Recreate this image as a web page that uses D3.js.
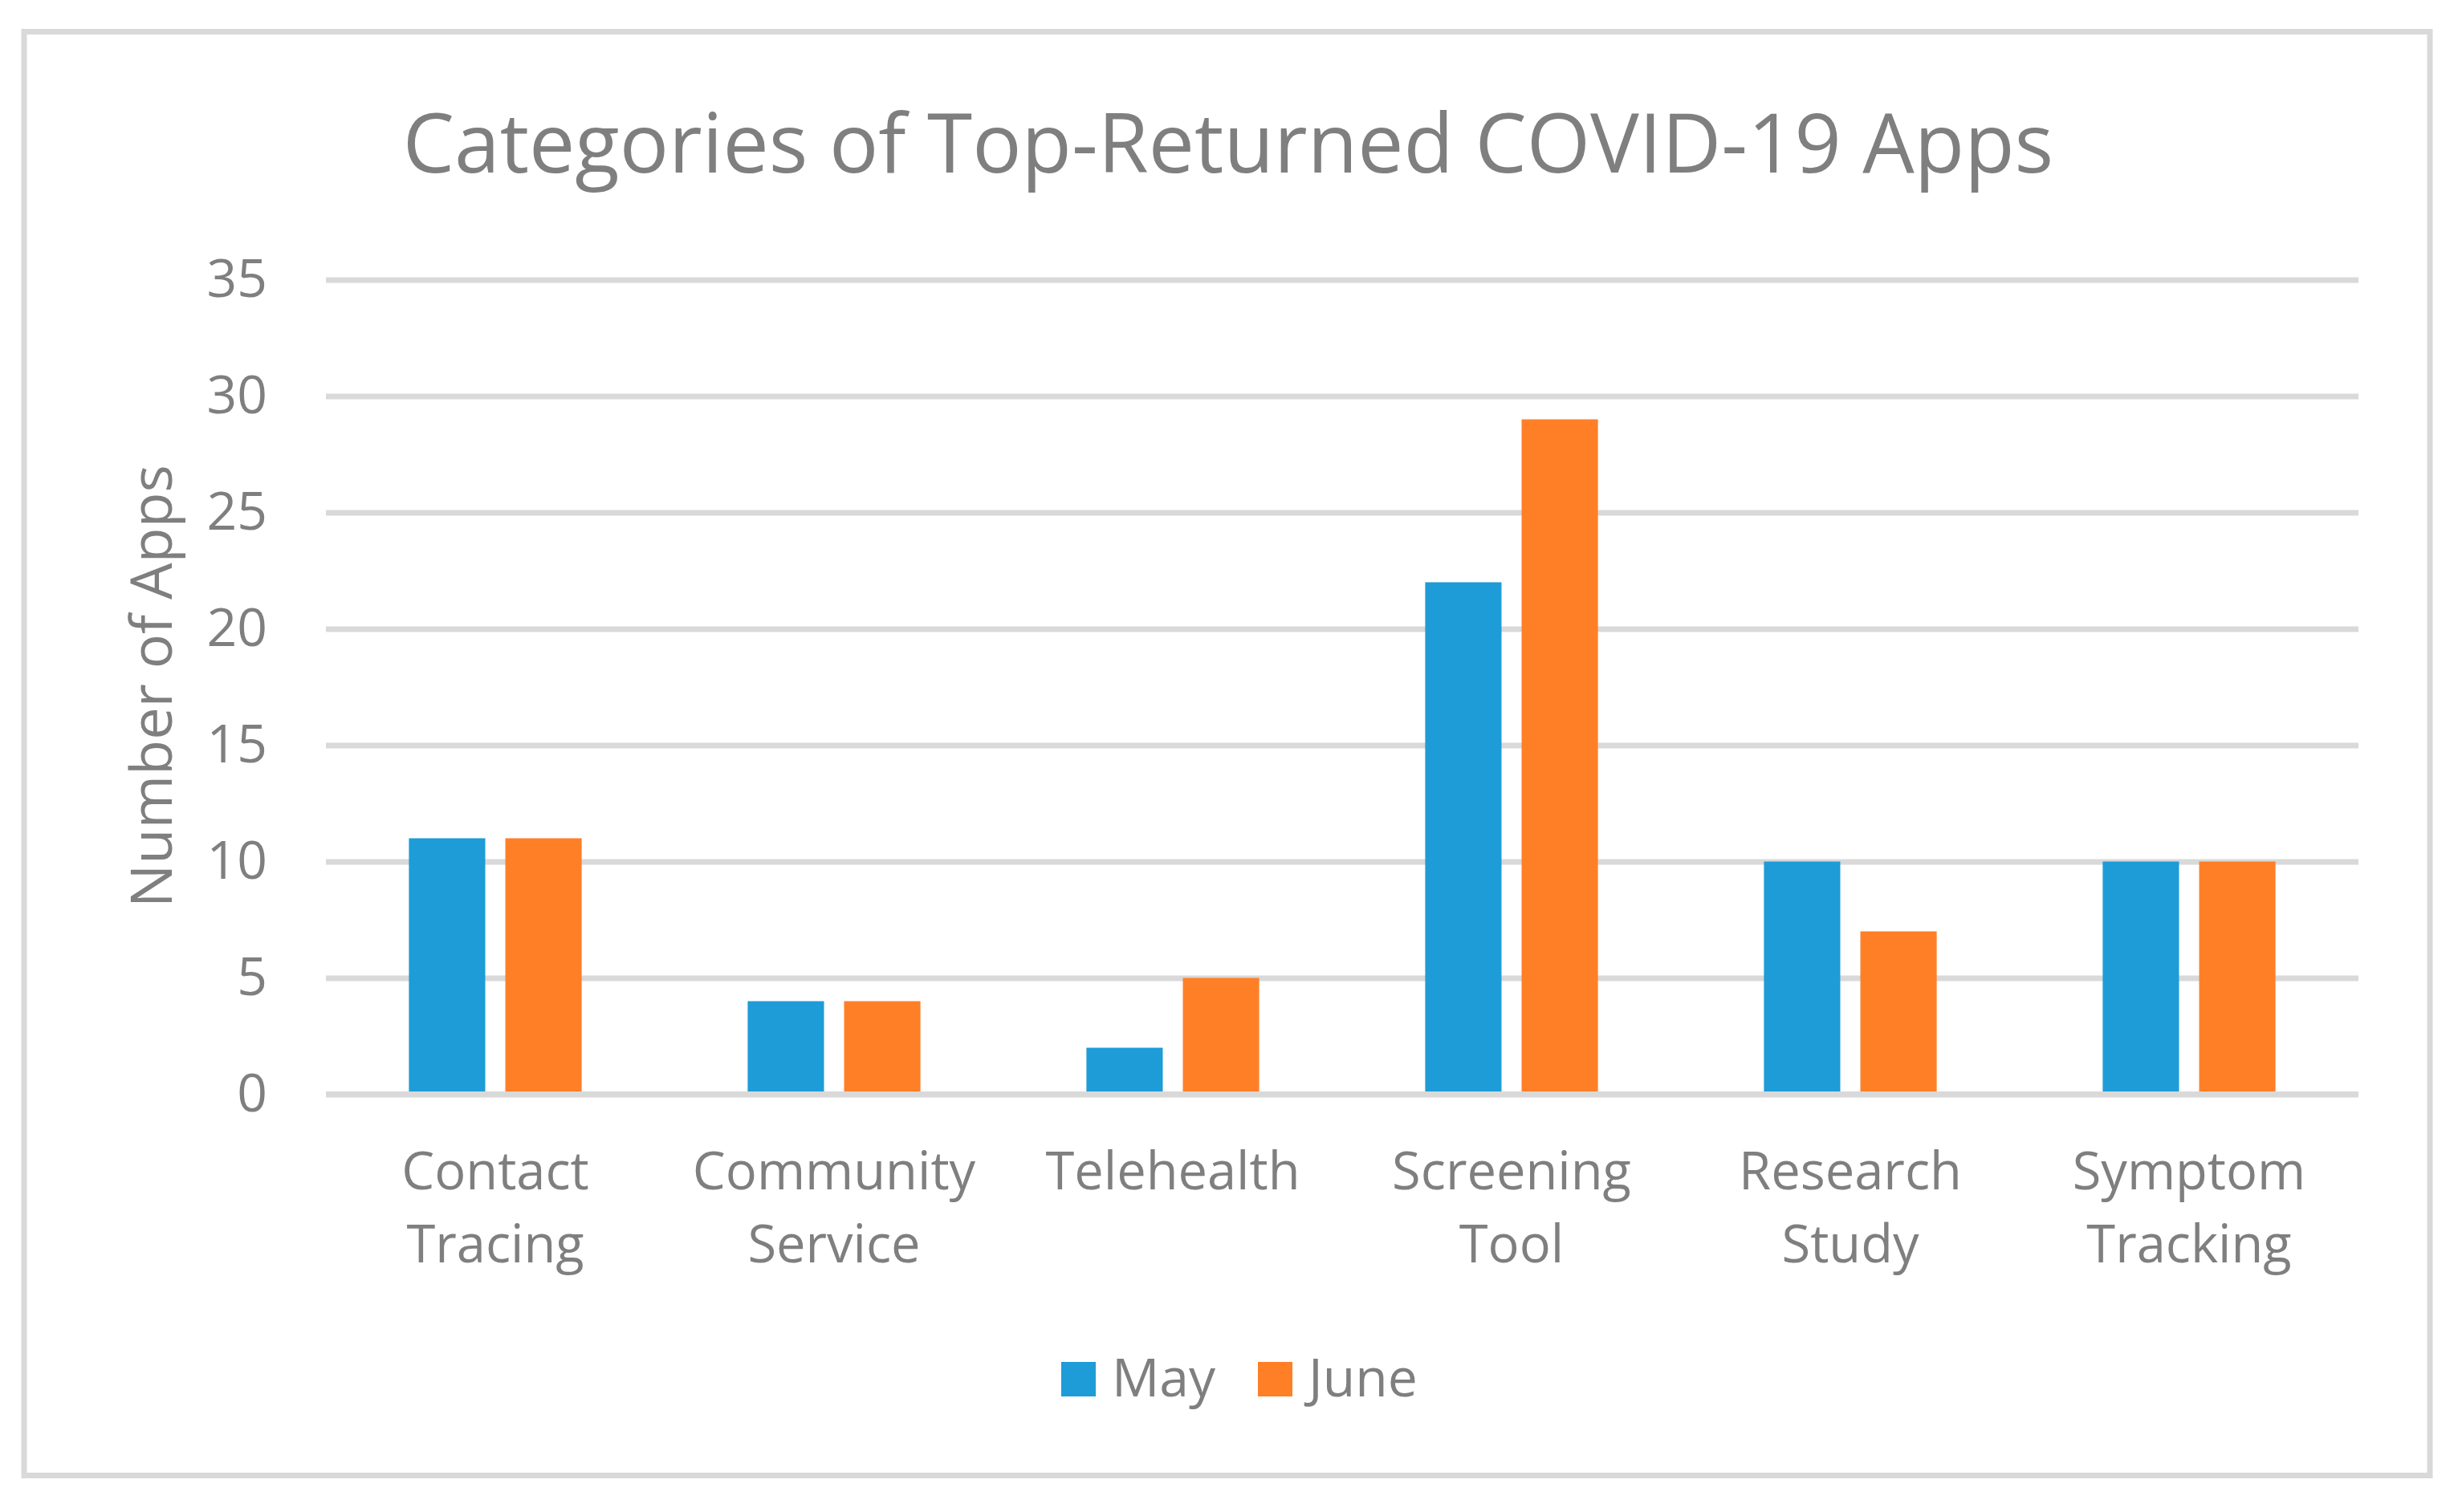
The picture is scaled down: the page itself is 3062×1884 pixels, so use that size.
<!DOCTYPE html>
<html>
<head>
<meta charset="utf-8">
<script src="https://cdn.jsdelivr.net/npm/d3@7"></script>
<style>
body { margin: 0; background: #fff; }
text { font-family: "Open Sans", sans-serif; fill: #7f7f7f; }
</style>
</head>
<body>
<div id="chart"></div>
<script>
var categories = ['Contact Tracing', 'Community Service', 'Telehealth', 'Screening Tool', 'Research Study', 'Symptom Tracking'];
var seriesNames = ['May', 'June'];
var mayValues = [11, 4, 2, 22, 10, 10];
var juneValues = [11, 4, 5, 29, 7, 10];
var yTicks = [0, 5, 10, 15, 20, 25, 30, 35];
var colors = ['#1e9cd8', '#ff7f27'];

var width = 3062, height = 1884;
var plotLeft = 406, plotRight = 2938, plotTop = 348.5, plotBottom = 1363.5;

var svg = d3.select('#chart').append('svg')
	.attr('width', width)
	.attr('height', height);

// outer frame
svg.append('rect')
	.attr('x', 30).attr('y', 39.5)
	.attr('width', 2997).attr('height', 1799)
	.attr('fill', 'none')
	.attr('stroke', '#d9d9d9')
	.attr('stroke-width', 7);

svg.append('text')
	.attr('x', 1530).attr('y', 215)
	.attr('text-anchor', 'middle')
	.style('font-size', '102px')
	.text('Categories of Top-Returned COVID-19 Apps');

var y = d3.scaleLinear().domain([0, 35]).range([plotBottom, plotTop]);
var x0 = d3.scaleBand().domain(categories).range([plotLeft, plotRight])
	.paddingInner(0.49).paddingOuter(0.245);
var x1 = d3.scaleBand().domain(seriesNames).range([0, x0.bandwidth()])
	.paddingInner(0.2083);

// gridlines + tick labels
var yAxis = svg.append('g')
	.attr('transform', 'translate(' + plotLeft + ',0)')
	.call(d3.axisLeft(y).tickValues(yTicks).tickSize(-(plotRight - plotLeft)).tickPadding(73));
yAxis.select('.domain').remove();
yAxis.selectAll('line').attr('stroke', '#d9d9d9').attr('stroke-width', 7);
yAxis.selectAll('text')
	.attr('fill', '#7f7f7f')
	.style('font-family', '"Open Sans", sans-serif')
	.style('font-size', '66px');

var rows = categories.map(function (c, i) {
	return { cat: c, values: [mayValues[i], juneValues[i]] };
});

var groups = svg.selectAll('g.cat').data(rows).enter()
	.append('g')
	.attr('class', 'cat')
	.attr('transform', function (d) { return 'translate(' + x0(d.cat) + ',0)'; });

groups.selectAll('rect').data(function (d) {
	return d.values.map(function (v, j) { return { name: seriesNames[j], value: v, i: j }; });
}).enter()
	.append('rect')
	.attr('x', function (d) { return x1(d.name); })
	.attr('y', function (d) { return y(d.value); })
	.attr('width', x1.bandwidth())
	.attr('height', function (d) { return y(0) - y(d.value); })
	.attr('fill', function (d) { return colors[d.i]; });

// horizontal axis line on top of bars
svg.append('line')
	.attr('x1', plotLeft).attr('x2', plotRight)
	.attr('y1', y(0)).attr('y2', y(0))
	.attr('stroke', '#d9d9d9')
	.attr('stroke-width', 7);

// category labels
var labels = svg.selectAll('text.cat').data(categories).enter()
	.append('text')
	.attr('class', 'cat')
	.attr('text-anchor', 'middle')
	.attr('y', 1482)
	.style('font-size', '65px');
labels.each(function (d) {
	var t = d3.select(this);
	var cx = x0(d) + x0.bandwidth() / 2;
	d.split(' ').forEach(function (w, k) {
		t.append('tspan')
			.attr('x', cx)
			.attr('dy', k === 0 ? 0 : 91)
			.text(w);
	});
});

svg.append('text')
	.attr('transform', 'translate(214,855) rotate(-90)')
	.attr('text-anchor', 'middle')
	.style('font-size', '72px')
	.text('Number of Apps');

// legend
var legendX = [1322, 1567];
var legend = svg.selectAll('g.legend').data(seriesNames).enter()
	.append('g')
	.attr('class', 'legend')
	.attr('transform', function (d, i) { return 'translate(' + legendX[i] + ',1697)'; });
legend.append('rect')
	.attr('width', 43).attr('height', 43)
	.attr('fill', function (d, i) { return colors[i]; });
legend.append('text')
	.attr('x', 63).attr('y', 43)
	.style('font-size', '66px')
	.text(function (d) { return d; });
</script>
</body>
</html>
